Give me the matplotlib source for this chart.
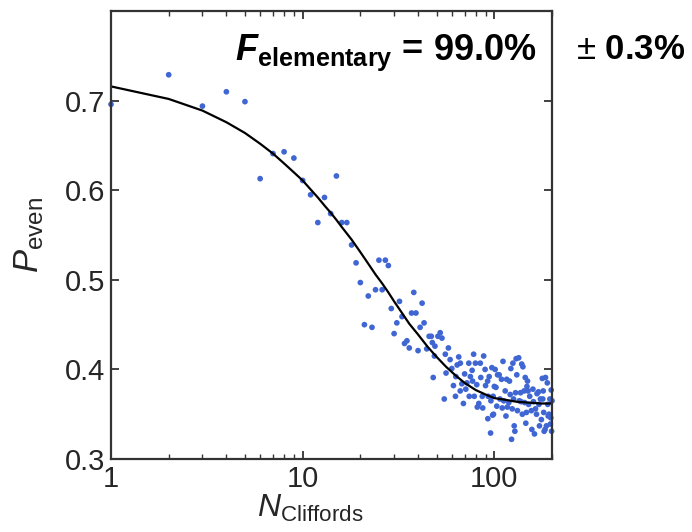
import matplotlib
matplotlib.use("Agg")
import matplotlib.pyplot as plt
from matplotlib.ticker import FixedLocator, NullFormatter

plt.rcParams['font.family'] = ['Liberation Sans', 'DejaVu Sans']
plt.rcParams['mathtext.fontset'] = 'custom'
plt.rcParams['mathtext.rm'] = 'Liberation Sans'
plt.rcParams['mathtext.it'] = 'Liberation Sans:italic'
plt.rcParams['mathtext.bf'] = 'Liberation Sans:bold'
plt.rcParams['mathtext.bfit'] = 'Liberation Sans:italic:bold'

# measured points (N Cliffords, P even)
n_low = [1, 2, 3, 4, 5, 6, 7, 8, 9, 10, 11, 12, 13, 14, 15, 16, 17, 18, 19, 20,
         21, 22, 23, 24, 25, 26, 27, 28, 29, 30, 31, 32, 33, 34, 35, 36, 37, 38, 39, 40,
         41, 42, 43, 44.4, 45.7, 46.9, 47.5, 48, 48.7, 49, 50.8, 52.2, 53.3, 54.8, 55.5, 56, 57.6, 58.8, 60]
p_low = [0.696, 0.729, 0.694, 0.710, 0.699, 0.613, 0.641, 0.643, 0.636, 0.611,
         0.595, 0.564, 0.592, 0.574, 0.616, 0.564, 0.564, 0.539, 0.519, 0.497,
         0.450, 0.482, 0.447, 0.489, 0.522, 0.489, 0.522, 0.516, 0.468, 0.440,
         0.452, 0.476, 0.459, 0.429, 0.432, 0.424, 0.463, 0.486, 0.463, 0.421,
         0.447, 0.474, 0.452, 0.423, 0.437, 0.437, 0.430, 0.391, 0.415, 0.426,
         0.437, 0.441, 0.435, 0.367, 0.417, 0.396, 0.424, 0.411, 0.401]

n_mid = [61.2, 62.7, 63, 64, 65.2, 66.4, 66.5, 67.7, 69, 70, 71, 72, 73.6, 74, 75,
         76.6, 77, 78, 78.6, 79.7, 81, 81.5, 83, 84.5, 85, 86.5, 87, 88, 89.5, 90,
         92.3, 92.5, 93, 94, 95.6, 96, 97.1, 98, 98.6, 99, 100]
p_mid = [0.382, 0.370, 0.392, 0.405, 0.414, 0.376, 0.407, 0.384, 0.362, 0.395, 0.378,
         0.385, 0.407, 0.370, 0.392, 0.399, 0.387, 0.417, 0.370, 0.407, 0.383, 0.358,
         0.362, 0.407, 0.391, 0.370, 0.357, 0.415, 0.400, 0.382, 0.387, 0.345, 0.370,
         0.392, 0.329, 0.365, 0.402, 0.349, 0.370, 0.350, 0.381]

n_high = [101, 102, 103, 104, 106, 107, 109, 110, 111, 112, 114, 115, 116, 117, 119,
          120, 121, 122, 123, 124, 125, 126, 127, 128, 129, 130, 131, 132, 134, 135,
          137, 138, 139, 140, 141, 143, 144, 145, 146, 147, 148, 149, 150, 151, 153,
          156, 157, 159, 160, 162, 164, 166, 167, 170, 171, 172, 174, 176, 178, 179,
          180, 181, 182, 184, 185, 187, 189, 190, 191, 193, 195, 196, 197, 198, 199, 200]
p_high = [0.400, 0.380, 0.359, 0.394, 0.394, 0.367, 0.389, 0.357, 0.409, 0.365,
          0.376, 0.348, 0.389, 0.358, 0.363, 0.387, 0.372, 0.401, 0.322, 0.356,
          0.407, 0.367, 0.337, 0.331, 0.374, 0.412, 0.394, 0.354, 0.413, 0.365,
          0.374, 0.364, 0.406, 0.350, 0.403, 0.376, 0.363, 0.391, 0.340, 0.352,
          0.381, 0.387, 0.376, 0.361, 0.370, 0.354, 0.333, 0.378, 0.364, 0.328,
          0.356, 0.350, 0.373, 0.375, 0.361, 0.337, 0.367, 0.344, 0.390, 0.367,
          0.376, 0.352, 0.331, 0.333, 0.391, 0.337, 0.385, 0.361, 0.348, 0.350,
          0.367, 0.339, 0.346, 0.377, 0.331, 0.365]

# fit curve
n_fit = [1, 2, 3, 4, 5, 6, 7, 8, 9, 10, 11, 12, 13, 14, 15, 16, 18, 20, 22, 24,
         26, 28, 30, 33, 36, 40, 45, 50, 56, 63, 70, 80, 90, 100, 115, 130, 150, 175, 200]
p_fit = [0.716, 0.702, 0.689, 0.676, 0.664, 0.652, 0.641, 0.630, 0.620, 0.611,
         0.601, 0.592, 0.583, 0.575, 0.567, 0.559, 0.545, 0.531, 0.518, 0.506,
         0.496, 0.486, 0.476, 0.463, 0.451, 0.439, 0.425, 0.414, 0.403, 0.393,
         0.385, 0.377, 0.372, 0.368, 0.366, 0.364, 0.363, 0.362, 0.362]

fig = plt.figure(figsize=(6.92, 5.32), dpi=100)
ax = fig.add_axes([0.1604, 0.1372, 0.6373, 0.8418])

dot_color = '#3f66d2'
for n, p in [(n_low, p_low), (n_mid, p_mid), (n_high, p_high)]:
    ax.scatter(n, p, s=17, color=dot_color, edgecolors='none', zorder=3, clip_on=False)
ax.plot(n_fit, p_fit, color='black', lw=1.6, zorder=4)

ax.set_xscale('log')
ax.set_xlim(1, 200)
ax.set_ylim(0.3, 0.8)
ax.set_xticks([1, 10, 100])
ax.set_xticklabels(['1', '10', '100'])
ax.xaxis.set_minor_locator(FixedLocator([2, 3, 4, 5, 6, 7, 8, 9, 20, 30, 40, 50, 60, 70, 80, 90, 200]))
ax.xaxis.set_minor_formatter(NullFormatter())
ax.set_yticks([0.3, 0.4, 0.5, 0.6, 0.7])
ax.set_yticklabels(['0.3', '0.4', '0.5', '0.6', '0.7'])

ax.tick_params(which='both', direction='in', top=True, right=True, colors='#333333',
               labelcolor='#262626')
ax.tick_params(which='major', length=6, width=1.3, labelsize=21, pad=4)
ax.tick_params(which='minor', length=3.5, width=1.0)
for s in ax.spines.values():
    s.set_color('#333333')
    s.set_linewidth(1.6)
    s.set_zorder(5)

ax.set_xlabel(r'$\mathit{N}_{\mathrm{Cliffords}}$', fontsize=23, color='#262626')
ax.xaxis.set_label_coords(0.452, -0.075, transform=ax.transAxes)
ax.xaxis.label.set_va('top')
ax.set_ylabel(r'$\mathit{P}_{\mathrm{even}}$', fontsize=25, color='#262626', labelpad=14)

fig.text(537 / 692, 1 - 60 / 532, r'$\mathbfit{F}_{\mathbf{elementary}}$ = 99.0%',
         fontsize=26, fontweight='bold', ha='right', va='baseline', color='black')
fig.text(576 / 692, 1 - 59 / 532, r'$\pm$ 0.3%', fontsize=25, fontweight='bold',
         ha='left', va='baseline', color='black')

fig.savefig('out.png', dpi=100)
